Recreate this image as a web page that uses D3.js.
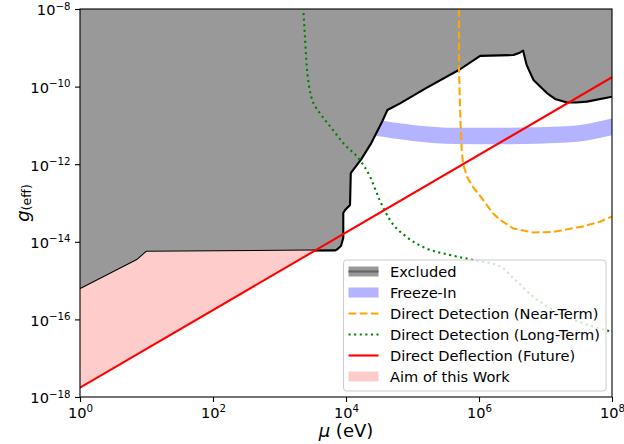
<!DOCTYPE html>
<html>
<head>
<meta charset="utf-8">
<script src="https://cdn.jsdelivr.net/npm/d3@7"></script>
<style>
body { margin: 0; background: #fff; }
svg { font-family: "DejaVu Sans", sans-serif; display: block; }
</style>
</head>
<body>
<svg width="624" height="444"></svg>
<script>
// excluded region boundary (mu in eV, g)
const excludedMu = [1, 7.2, 10, 6.8e3, 7.2e3, 8.4e3, 9.1e3, 9.1e3, 9.7e3, 1.15e4, 1.18e4, 1.7e4, 2.4e4, 3.5e4, 4.2e4, 6.5e4,
    1.6e5, 5.2e5, 1.04e6, 3.3e6, 4.1e6, 4.6e6, 5.2e6, 5.8e6, 6.6e6, 8.3e6, 1.05e7, 1.39e7, 2.1e7, 2.9e7, 4.2e7, 1e8];
const excludedG = [6.0e-16, 3.4e-15, 5.5e-15, 6.0e-15, 6.2e-15, 7.8e-15, 1.26e-14, 5.5e-14, 6.6e-14, 8.9e-14, 5.9e-13, 1.35e-12, 3.5e-12, 1.26e-11, 2.5e-11, 3.7e-11,
    9.1e-11, 2.8e-10, 6.2e-10, 6.5e-10, 7.5e-10, 8.5e-10, 3.6e-10, 2.4e-10, 1.48e-10, 1.0e-10, 6.8e-11, 4.8e-11, 3.9e-11, 3.9e-11, 4.1e-11, 5.5e-11];

// freeze-in band
const freezeMu = [2.5e4, 4.6e5, 2.1e6, 2.1e7, 1e8];
const freezeLow = [5.6e-12, 3.3e-12, 3.25e-12, 3.6e-12, 5.6e-12];
const freezeHigh = [1.45e-11, 8.7e-12, 8.7e-12, 9.5e-12, 1.5e-11];

// direct detection, near-term
const nearMu = [5.0e5, 5.0e5, 5.25e5, 5.5e5, 5.75e5, 6.6e5, 8.1e5, 1.15e6, 1.62e6, 2.1e6, 3.3e6, 6.6e6, 1.32e7, 3.7e7, 6.6e7, 1e8];
const nearG = [1e-8, 2.8e-10, 1.38e-11, 2.3e-12, 1.05e-12, 4.7e-13, 2.6e-13, 1.2e-13, 5.4e-14, 3.6e-14, 2.2e-14, 1.74e-14, 1.8e-14, 2.5e-14, 3.3e-14, 4.5e-14];

// direct detection, long-term
const longMu = [2.3e3, 2.4e3, 2.57e3, 2.7e3, 3.0e3, 3.5e3, 4.1e3, 5.8e3, 9.1e3, 1.6e4, 2.3e4, 3.2e4, 4.6e4, 8.1e4, 1.6e5, 3.6e5,
    8.1e5, 2.1e6, 3.3e6, 6.6e6, 2.1e7, 5.2e7, 1e8];
const longG = [7.9e-9, 2.3e-9, 3.2e-10, 1.48e-10, 5.5e-11, 2.95e-11, 2.0e-11, 9.3e-12, 3.5e-12, 1.3e-12, 4.8e-13, 1.2e-13, 3.6e-14, 1.35e-14, 6.8e-15, 4.6e-15,
    3.4e-15, 2.3e-15, 1.15e-15, 3.8e-16, 1.17e-16, 6.5e-17, 4.8e-17];

// direct deflection (future)
const deflMu = [1, 1e8];
const deflG = [1.74e-18, 1.74e-10];

// aim of this work
const aimMu = [1, 7.2, 10, 3.5e3];
const aimHigh = [6.0e-16, 3.4e-15, 5.5e-15, 6.0e-15];
const aimLow = [1.74e-18, 1.25e-17, 1.74e-17, 6.0e-15];

const xTicks = [1, 1e2, 1e4, 1e6, 1e8];
const yTicks = [1e-18, 1e-16, 1e-14, 1e-12, 1e-10, 1e-8];

const legendLabels = ['Excluded', 'Freeze-In', 'Direct Detection (Near-Term)', 'Direct Detection (Long-Term)',
    'Direct Deflection (Future)', 'Aim of this Work'];

const svg = d3.select('svg');
const pLeft = 80, pRight = 612, pTop = 9, pBottom = 397;
const lw = 2.1;
const fs = 14.6;

const x = d3.scaleLog().domain([1, 1e8]).range([pLeft, pRight]);
const y = d3.scaleLog().domain([1e-18, 1e-8]).range([pBottom, pTop]);

svg.append('clipPath').attr('id', 'plot')
    .append('rect').attr('x', pLeft).attr('y', pTop).attr('width', pRight - pLeft).attr('height', pBottom - pTop);

const plot = svg.append('g').attr('clip-path', 'url(#plot)');

const zip = (a, b) => a.map((v, i) => [v, b[i]]);
const line = d3.line().x(d => x(d[0])).y(d => y(d[1]));
const smooth = d3.line().curve(d3.curveMonotoneX).x(d => x(d[0])).y(d => y(d[1]));

// freeze-in band (drawn first, excluded fill covers its left end)
plot.append('path')
    .datum(freezeMu.map((m, i) => ({ m: m, lo: freezeLow[i], hi: freezeHigh[i] })))
    .attr('fill', '#b3b3ff')
    .attr('d', d3.area().curve(d3.curveMonotoneX).x(d => x(d.m)).y0(d => y(d.lo)).y1(d => y(d.hi)));

// excluded region
const excl = zip(excludedMu, excludedG);
plot.append('path')
    .datum(excl.concat([[1e8, 1e-8], [1, 1e-8]]))
    .attr('fill', '#999999')
    .attr('d', line);

plot.append('path')
    .datum(excl)
    .attr('fill', 'none')
    .attr('stroke', '#000')
    .attr('stroke-width', lw)
    .attr('stroke-linejoin', 'round')
    .attr('d', line);

// aim of this work
plot.append('path')
    .datum(aimMu.map((m, i) => ({ m: m, lo: aimLow[i], hi: aimHigh[i] })))
    .attr('fill', '#ffcccc')
    .attr('d', d3.area().x(d => x(d.m)).y0(d => y(d.lo)).y1(d => y(d.hi)));

plot.append('path')
    .datum(zip(nearMu, nearG))
    .attr('fill', 'none')
    .attr('stroke', '#ffa500')
    .attr('stroke-width', lw)
    .attr('stroke-dasharray', '7.8,3.4')
    .attr('d', line);

plot.append('path')
    .datum(zip(longMu, longG))
    .attr('fill', 'none')
    .attr('stroke', '#008000')
    .attr('stroke-width', lw)
    .attr('stroke-dasharray', '2.1,3.5')
    .attr('d', smooth);

plot.append('path')
    .datum(zip(deflMu, deflG))
    .attr('fill', 'none')
    .attr('stroke', '#ff0000')
    .attr('stroke-width', lw)
    .attr('d', line);

// axes
function supLabel(sel) {
    sel.each(function (d) {
        const t = d3.select(this);
        t.text(null);
        t.append('tspan').text('10');
        t.append('tspan').attr('font-size', (fs * 0.7) + 'px').attr('dy', -5.8)
            .text(String(Math.round(Math.log10(d))).replace('-', '\u2212'));
    });
}

const xAxis = svg.append('g')
    .attr('transform', `translate(0,${pBottom})`)
    .call(d3.axisBottom(x).tickValues(xTicks).tickSize(5).tickPadding(5).tickFormat(''));
xAxis.select('.domain').remove();
xAxis.selectAll('.tick line').attr('stroke-width', 1.1);
xAxis.selectAll('.tick text').attr('y', 20.5).attr('dy', null).attr('font-size', fs + 'px')
    .attr('font-family', '"DejaVu Sans"').attr('fill', '#000').call(supLabel);

const yAxis = svg.append('g')
    .attr('transform', `translate(${pLeft},0)`)
    .call(d3.axisLeft(y).tickValues(yTicks).tickSize(5).tickPadding(5).tickFormat(''));
yAxis.select('.domain').remove();
yAxis.selectAll('.tick line').attr('stroke-width', 1.1);
yAxis.selectAll('.tick text').attr('x', -9.5).attr('dy', null).attr('y', 5.8).attr('font-size', fs + 'px')
    .attr('font-family', '"DejaVu Sans"').attr('fill', '#000').call(supLabel);

svg.append('rect')
    .attr('x', pLeft).attr('y', pTop).attr('width', pRight - pLeft).attr('height', pBottom - pTop)
    .attr('fill', 'none').attr('stroke', '#000').attr('stroke-width', 1.1);

// axis titles
const xt = svg.append('text').attr('x', 346).attr('y', 437).attr('text-anchor', 'middle').attr('font-size', '18px');
xt.append('tspan').attr('font-style', 'italic').text('\u03bc');
xt.append('tspan').text(' (eV)');

const yt = svg.append('text').attr('transform', 'translate(29,203) rotate(-90)').attr('text-anchor', 'middle').attr('font-size', '18px');
yt.append('tspan').attr('font-style', 'italic').text('g');
yt.append('tspan').attr('font-size', '12.6px').attr('dy', 2).text('(eff)');

// legend
const lg = svg.append('g');
lg.append('rect')
    .attr('x', 343.5).attr('y', 260).attr('width', 262.5).attr('height', 131).attr('rx', 3)
    .attr('fill', 'rgba(255,255,255,0.8)').attr('stroke', '#cccccc').attr('stroke-width', 1);

const rowY = i => 271.5 + i * 21;
const hx0 = 348.5, hx1 = 378.5;

lg.append('rect').attr('x', hx0).attr('y', rowY(0) - 5).attr('width', hx1 - hx0).attr('height', 10).attr('fill', '#999999');
lg.append('line').attr('x1', hx0).attr('x2', hx1).attr('y1', rowY(0)).attr('y2', rowY(0)).attr('stroke', '#666666').attr('stroke-width', 2.2);
lg.append('rect').attr('x', hx0).attr('y', rowY(1) - 5).attr('width', hx1 - hx0).attr('height', 10).attr('fill', '#b3b3ff');
lg.append('line').attr('x1', hx0).attr('x2', hx1).attr('y1', rowY(2)).attr('y2', rowY(2))
    .attr('stroke', '#ffa500').attr('stroke-width', lw).attr('stroke-dasharray', '7.8,3.4');
lg.append('line').attr('x1', hx0).attr('x2', hx1).attr('y1', rowY(3)).attr('y2', rowY(3))
    .attr('stroke', '#008000').attr('stroke-width', lw).attr('stroke-dasharray', '2.1,3.5');
lg.append('line').attr('x1', hx0).attr('x2', hx1).attr('y1', rowY(4)).attr('y2', rowY(4))
    .attr('stroke', '#ff0000').attr('stroke-width', lw);
lg.append('rect').attr('x', hx0).attr('y', rowY(5) - 5).attr('width', hx1 - hx0).attr('height', 10).attr('fill', '#ffcccc');

lg.selectAll('text.lab')
    .data(legendLabels)
    .enter().append('text')
    .attr('class', 'lab')
    .attr('x', 390)
    .attr('y', (d, i) => rowY(i) + 5.2)
    .attr('font-size', fs + 'px')
    .text(d => d);
</script>
</body>
</html>
